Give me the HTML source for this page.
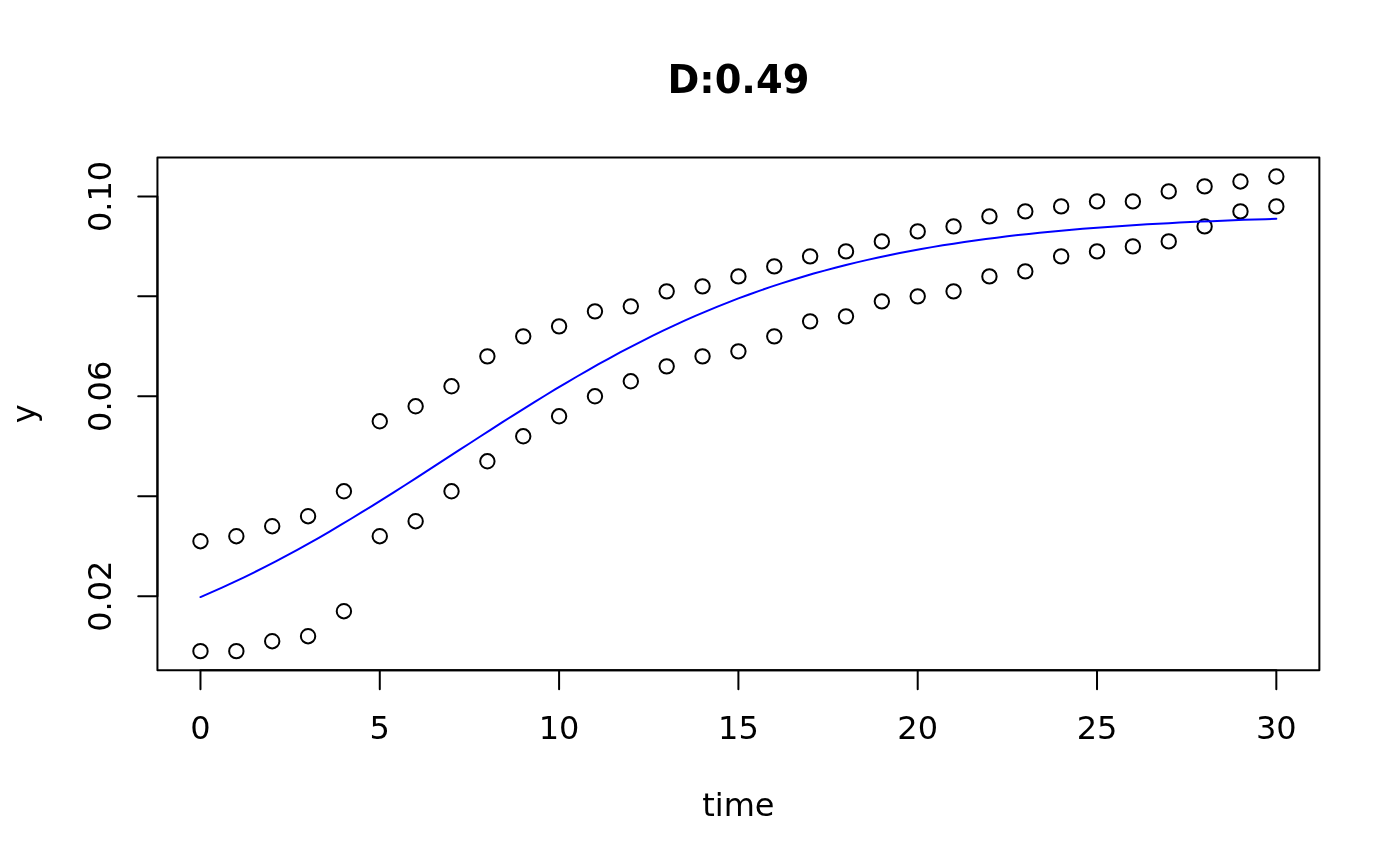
<!DOCTYPE html>
<html lang="en"><head><meta charset="utf-8"><title>D:0.49</title>
<style>html,body{margin:0;padding:0;background:#fff}body{width:1400px;height:866px;overflow:hidden}svg{display:block}text{font-family:"DejaVu Sans","Liberation Sans",sans-serif;fill:#000}</style></head><body>
<svg width="1400" height="866" viewBox="0 0 1400 866">
<rect width="1400" height="866" fill="#fff"/>
<g fill="none" stroke="#000" stroke-width="2" stroke-linecap="round" stroke-linejoin="round">
<circle cx="200.47" cy="651.17" r="7.2"/>
<circle cx="236.34" cy="651.17" r="7.2"/>
<circle cx="272.20" cy="641.18" r="7.2"/>
<circle cx="308.06" cy="636.18" r="7.2"/>
<circle cx="343.92" cy="611.19" r="7.2"/>
<circle cx="379.78" cy="536.23" r="7.2"/>
<circle cx="415.64" cy="521.24" r="7.2"/>
<circle cx="451.51" cy="491.26" r="7.2"/>
<circle cx="487.37" cy="461.27" r="7.2"/>
<circle cx="523.23" cy="436.29" r="7.2"/>
<circle cx="559.09" cy="416.30" r="7.2"/>
<circle cx="594.95" cy="396.31" r="7.2"/>
<circle cx="630.81" cy="381.32" r="7.2"/>
<circle cx="666.68" cy="366.33" r="7.2"/>
<circle cx="702.54" cy="356.33" r="7.2"/>
<circle cx="738.40" cy="351.33" r="7.2"/>
<circle cx="774.26" cy="336.34" r="7.2"/>
<circle cx="810.12" cy="321.35" r="7.2"/>
<circle cx="845.99" cy="316.35" r="7.2"/>
<circle cx="881.85" cy="301.36" r="7.2"/>
<circle cx="917.71" cy="296.36" r="7.2"/>
<circle cx="953.57" cy="291.37" r="7.2"/>
<circle cx="989.43" cy="276.38" r="7.2"/>
<circle cx="1025.29" cy="271.38" r="7.2"/>
<circle cx="1061.16" cy="256.39" r="7.2"/>
<circle cx="1097.02" cy="251.39" r="7.2"/>
<circle cx="1132.88" cy="246.39" r="7.2"/>
<circle cx="1168.74" cy="241.39" r="7.2"/>
<circle cx="1204.60" cy="226.40" r="7.2"/>
<circle cx="1240.46" cy="211.41" r="7.2"/>
<circle cx="1276.33" cy="206.41" r="7.2"/>
<circle cx="200.47" cy="541.23" r="7.2"/>
<circle cx="236.34" cy="536.23" r="7.2"/>
<circle cx="272.20" cy="526.24" r="7.2"/>
<circle cx="308.06" cy="516.24" r="7.2"/>
<circle cx="343.92" cy="491.26" r="7.2"/>
<circle cx="379.78" cy="421.30" r="7.2"/>
<circle cx="415.64" cy="406.30" r="7.2"/>
<circle cx="451.51" cy="386.32" r="7.2"/>
<circle cx="487.37" cy="356.33" r="7.2"/>
<circle cx="523.23" cy="336.34" r="7.2"/>
<circle cx="559.09" cy="326.35" r="7.2"/>
<circle cx="594.95" cy="311.36" r="7.2"/>
<circle cx="630.81" cy="306.36" r="7.2"/>
<circle cx="666.68" cy="291.37" r="7.2"/>
<circle cx="702.54" cy="286.37" r="7.2"/>
<circle cx="738.40" cy="276.38" r="7.2"/>
<circle cx="774.26" cy="266.38" r="7.2"/>
<circle cx="810.12" cy="256.39" r="7.2"/>
<circle cx="845.99" cy="251.39" r="7.2"/>
<circle cx="881.85" cy="241.39" r="7.2"/>
<circle cx="917.71" cy="231.40" r="7.2"/>
<circle cx="953.57" cy="226.40" r="7.2"/>
<circle cx="989.43" cy="216.41" r="7.2"/>
<circle cx="1025.29" cy="211.41" r="7.2"/>
<circle cx="1061.16" cy="206.41" r="7.2"/>
<circle cx="1097.02" cy="201.42" r="7.2"/>
<circle cx="1132.88" cy="201.42" r="7.2"/>
<circle cx="1168.74" cy="191.42" r="7.2"/>
<circle cx="1204.60" cy="186.42" r="7.2"/>
<circle cx="1240.46" cy="181.43" r="7.2"/>
<circle cx="1276.33" cy="176.43" r="7.2"/>
<path d="M200.47 670.16H1276.33M200.47 670.16v19.2M379.78 670.16v19.2M559.09 670.16v19.2M738.40 670.16v19.2M917.71 670.16v19.2M1097.02 670.16v19.2M1276.33 670.16v19.2M157.44 596.20V196.42M157.44 596.20h-19.2M157.44 496.25h-19.2M157.44 396.31h-19.2M157.44 296.36h-19.2M157.44 196.42h-19.2"/>
<rect x="157.44" y="157.44" width="1161.92" height="512.72"/>
</g>
<path d="M200.47 597.05 L211.23 592.41 L221.99 587.62 L232.75 582.67 L243.51 577.57 L254.27 572.32 L265.03 566.91 L275.78 561.36 L286.54 555.67 L297.30 549.83 L308.06 543.86 L318.82 537.76 L329.58 531.54 L340.33 525.21 L351.09 518.76 L361.85 512.22 L372.61 505.58 L383.37 498.86 L394.13 492.08 L404.89 485.23 L415.64 478.33 L426.40 471.39 L437.16 464.42 L447.92 457.44 L458.68 450.45 L469.44 443.47 L480.20 436.50 L490.95 429.57 L501.71 422.68 L512.47 415.84 L523.23 409.07 L533.99 402.37 L544.75 395.75 L555.51 389.22 L566.26 382.80 L577.02 376.49 L587.78 370.29 L598.54 364.22 L609.30 358.27 L620.06 352.47 L630.81 346.80 L641.57 341.28 L652.33 335.90 L663.09 330.68 L673.85 325.61 L684.61 320.69 L695.37 315.93 L706.12 311.33 L716.88 306.88 L727.64 302.58 L738.40 298.44 L749.16 294.45 L759.92 290.61 L770.68 286.92 L781.43 283.38 L792.19 279.97 L802.95 276.71 L813.71 273.58 L824.47 270.59 L835.23 267.72 L845.99 264.98 L856.74 262.36 L867.50 259.86 L878.26 257.48 L889.02 255.20 L899.78 253.03 L910.54 250.97 L921.29 249.00 L932.05 247.12 L942.81 245.34 L953.57 243.64 L964.33 242.03 L975.09 240.50 L985.85 239.04 L996.60 237.66 L1007.36 236.35 L1018.12 235.10 L1028.88 233.92 L1039.64 232.80 L1050.40 231.74 L1061.16 230.73 L1071.91 229.77 L1082.67 228.87 L1093.43 228.01 L1104.19 227.20 L1114.95 226.43 L1125.71 225.70 L1136.47 225.02 L1147.22 224.36 L1157.98 223.75 L1168.74 223.16 L1179.50 222.61 L1190.26 222.09 L1201.02 221.59 L1211.77 221.13 L1222.53 220.69 L1233.29 220.27 L1244.05 219.87 L1254.81 219.50 L1265.57 219.15 L1276.33 218.81" fill="none" stroke="#0000ff" stroke-width="2" stroke-linecap="round" stroke-linejoin="round"/>
<g font-size="32" text-anchor="middle">
<text x="200.47" y="739">0</text>
<text x="379.78" y="739">5</text>
<text x="559.09" y="739">10</text>
<text x="738.40" y="739">15</text>
<text x="917.71" y="739">20</text>
<text x="1097.02" y="739">25</text>
<text x="1276.33" y="739">30</text>
<text transform="translate(111.36 596.20) rotate(-90)">0.02</text>
<text transform="translate(111.36 396.31) rotate(-90)">0.06</text>
<text transform="translate(111.36 196.42) rotate(-90)">0.10</text>
<text x="738.40" y="816.1">time</text>
<text transform="translate(34.56 413.80) rotate(-90)">y</text>
</g>
<text x="738.40" y="92.9" font-size="38.4" font-weight="bold" text-anchor="middle">D:0.49</text>
</svg></body></html>
